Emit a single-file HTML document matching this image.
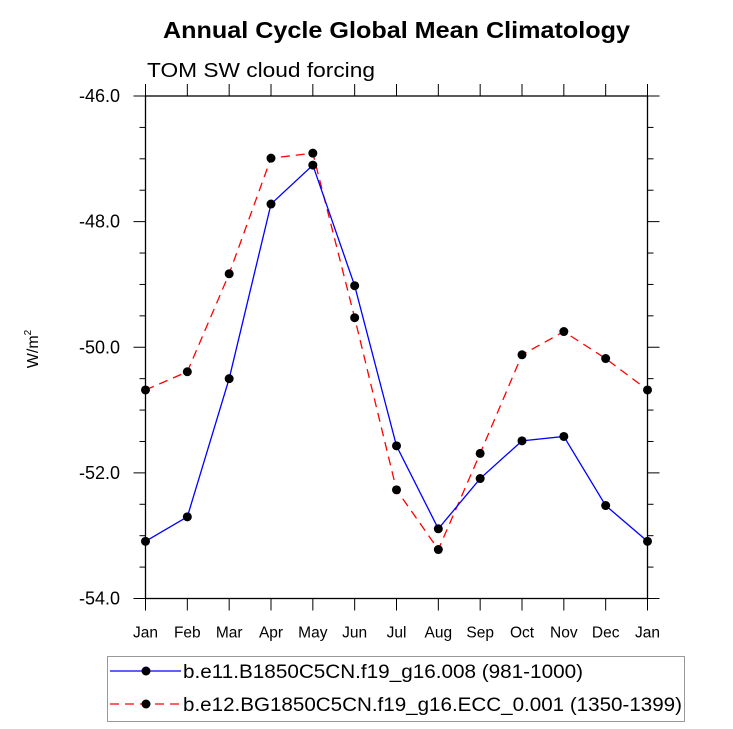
<!DOCTYPE html>
<html><head><meta charset="utf-8"><style>
body{margin:0;background:#fff}
svg{display:block;font-family:"Liberation Sans",Arial,sans-serif}
</style></head><body>
<svg id="c" width="733" height="729" viewBox="0 0 733 729">
<text x="163" y="38" textLength="467" lengthAdjust="spacingAndGlyphs" font-size="23" font-weight="bold">Annual Cycle Global Mean Climatology</text>
<text x="147" y="77" textLength="228" lengthAdjust="spacingAndGlyphs" font-size="20">TOM SW cloud forcing</text>
<text transform="translate(38,349) rotate(-90)" text-anchor="middle" font-size="16">W/m<tspan font-size="10" dy="-7">2</tspan></text>
<g id="axes"></g><g id="series"></g>
<rect x="107.5" y="656.5" width="577" height="65" fill="none" stroke="#999"/>
<g>
<line x1="110" y1="671" x2="181" y2="671" stroke="#00f" stroke-width="1.3"/>
<circle cx="146" cy="671" r="4.5" fill="#000"/>
<text x="183" y="678" textLength="400" lengthAdjust="spacingAndGlyphs" font-size="19">b.e11.B1850C5CN.f19_g16.008 (981-1000)</text></g>
<g>
<line x1="110" y1="704" x2="181" y2="704" stroke="#f00" stroke-width="1.3" stroke-dasharray="9,6"/>
<circle cx="146" cy="704" r="4.5" fill="#000"/>
<text x="183" y="711" textLength="499" lengthAdjust="spacingAndGlyphs" font-size="19">b.e12.BG1850C5CN.f19_g16.ECC_0.001 (1350-1399)</text></g>
</svg>
<script>
const months=["Jan","Feb","Mar","Apr","May","Jun","Jul","Aug","Sep","Oct","Nov","Dec","Jan"];
const seriesB=[-53.09,-52.70,-50.50,-47.72,-47.10,-49.02,-51.57,-52.89,-52.09,-51.49,-51.42,-52.52,-53.09];
const seriesR=[-50.68,-50.39,-48.83,-46.99,-46.91,-49.53,-52.27,-53.22,-51.69,-50.12,-49.75,-50.18,-50.68];
const yTicks=[-46,-48,-50,-52,-54];
const L=145.5,R=647.5,T=96,B=598.5,yMax=-46,yMin=-54;
const xs=i=>L+i*(R-L)/(months.length-1);
const ys=v=>T+(yMax-v)/(yMax-yMin)*(B-T);
const NS="http://www.w3.org/2000/svg";
function mk(t,a,p){const e=document.createElementNS(NS,t);for(const k in a)e.setAttribute(k,a[k]);p.appendChild(e);return e;}
const ax=document.getElementById('axes');
const fr=mk('rect',{x:L,y:T,width:R-L,height:B-T,fill:'none',stroke:'#000','stroke-width':1.3},ax);


months.forEach((m,i)=>{const x=xs(i);
mk('line',{x1:x,y1:B,x2:x,y2:B+12,stroke:'#000'},ax);
mk('line',{x1:x,y1:T,x2:x,y2:T-12,stroke:'#000'},ax);
const t=mk('text',{x:x,y:B+39,'text-anchor':'middle','font-size':15.5},ax);t.textContent=m;

});
for(let v=yMax;v>=yMin-1e-9;v-=0.5){const y=ys(v);const maj=Math.abs(v%2)<1e-9;const len=maj?12:6;
mk('line',{x1:L,y1:y,x2:L-len,y2:y,stroke:'#000'},ax);
mk('line',{x1:R,y1:y,x2:R+len,y2:y,stroke:'#000'},ax);}
yTicks.forEach(v=>{const t=mk('text',{x:120,y:ys(v)+6,'text-anchor':'end','font-size':18},ax);t.textContent=v.toFixed(1);

});
const sg=document.getElementById('series');
function draw(d,col,dash,name){const g=mk('g',{},sg);


mk('polyline',{points:d.map((v,i)=>xs(i)+','+ys(v)).join(' '),fill:'none',stroke:col,'stroke-width':1.3,'stroke-dasharray':dash},g);
d.forEach((v,i)=>{const c=mk('circle',{cx:xs(i),cy:ys(v),r:4.5,fill:'#000'},g);

});}
draw(seriesR,'#f00','9,6','series-bg1850');
draw(seriesB,'#00f','none','series-b1850');
</script>
</body></html>
